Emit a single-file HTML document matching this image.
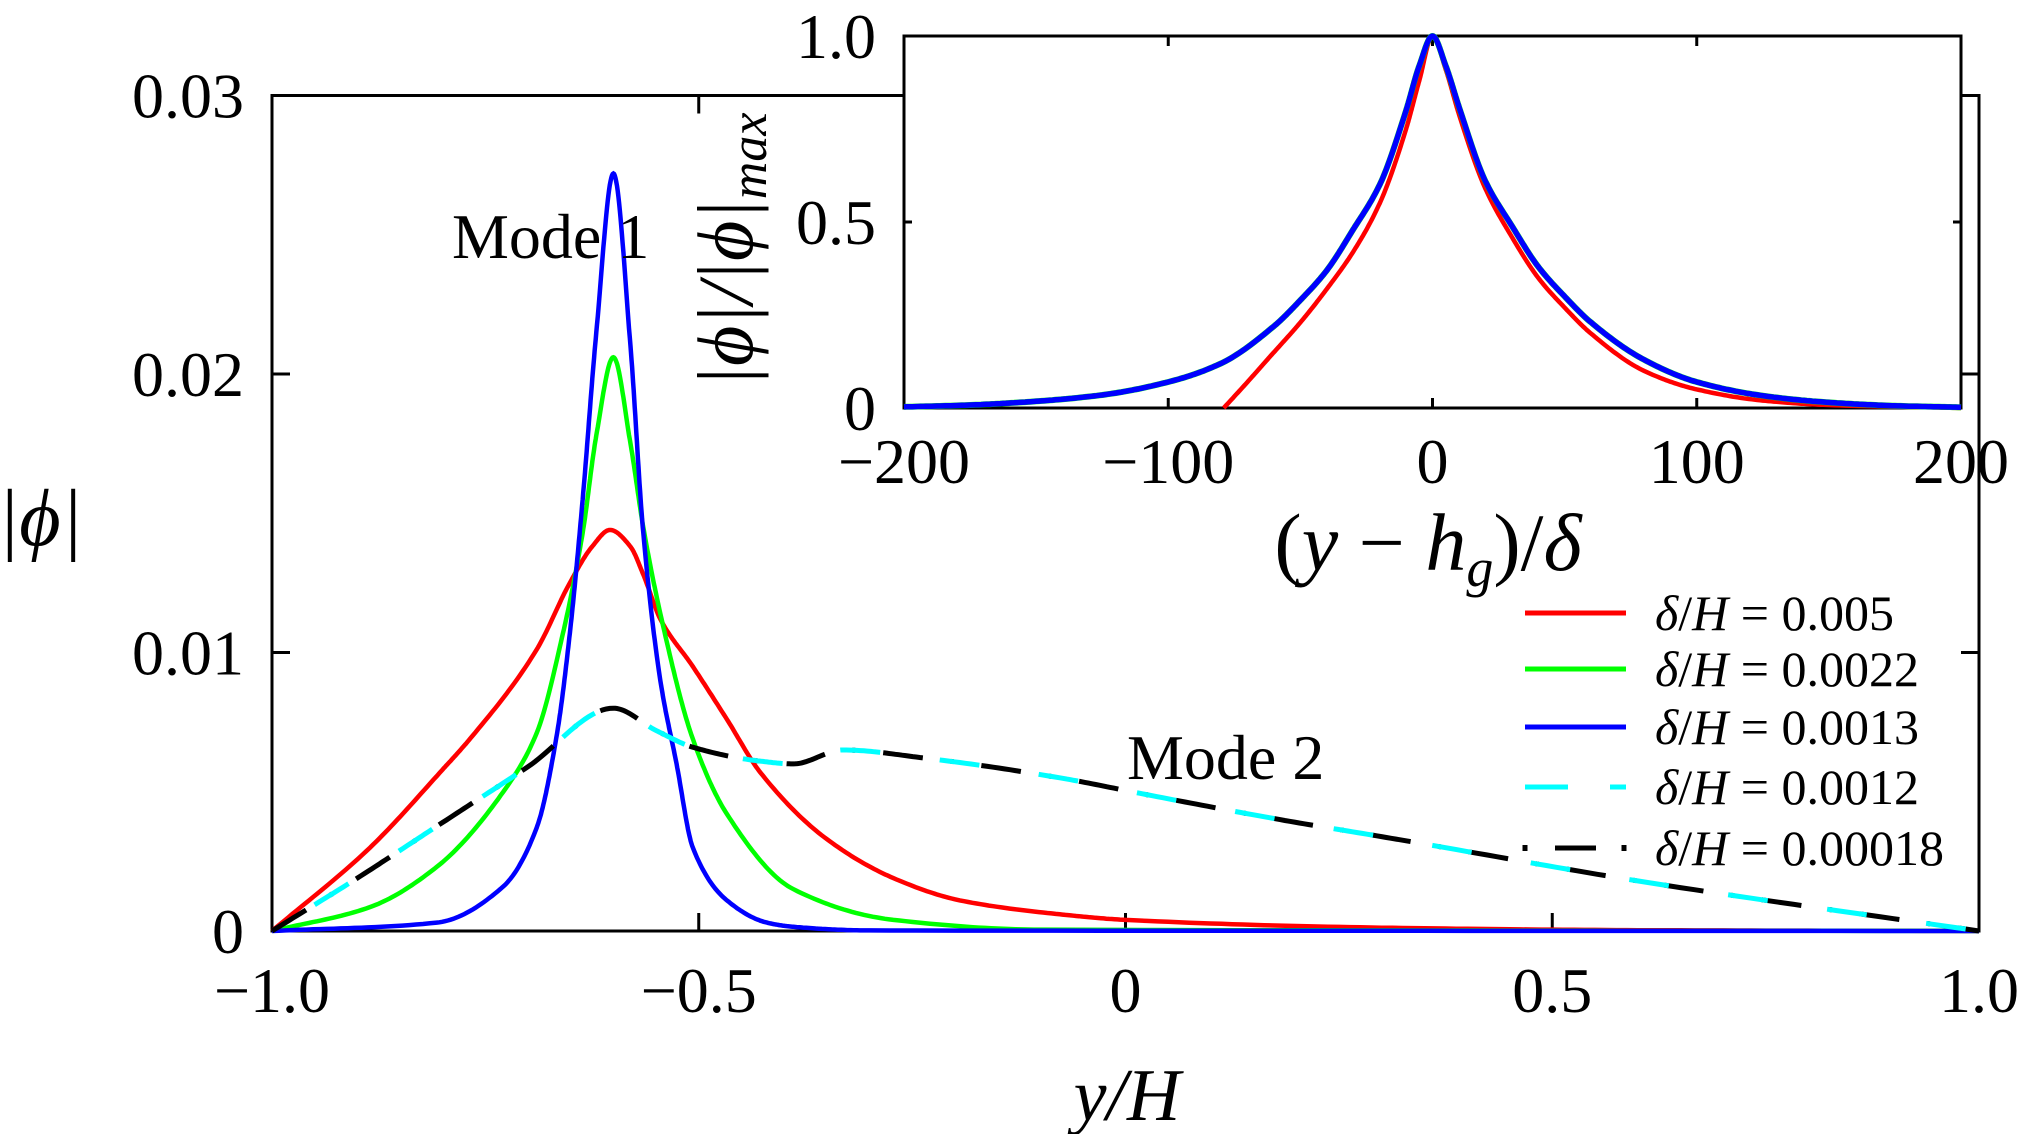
<!DOCTYPE html>
<html><head><meta charset="utf-8"><style>
html,body{margin:0;padding:0;background:#fff;}
svg{display:block;font-family:"Liberation Serif",serif;}
</style></head><body>
<svg id="chart" width="2024" height="1134" viewBox="0 0 2024 1134">
<g id="main"></g>
<g id="inset"></g>
<g id="legend"></g>
</svg>
<script>
// ---- main chart data ----
const mainXTicks = [-1, -0.5, 0, 0.5, 1];
const mainXTickLabels = ["\u22121.0", "\u22120.5", "0", "0.5", "1.0"];
const mainYTicks = [0, 0.01, 0.02, 0.03];
const mainYTickLabels = ["0", "0.01", "0.02", "0.03"];
const redX = [-1, -0.885, -0.8, -0.768, -0.69, -0.651, -0.625, -0.604, -0.58, -0.565, -0.545, -0.507, -0.467, -0.428, -0.35, -0.272, -0.194, -0.077, 0, 0.3, 0.6, 1];
const redY = [0, 0.0030, 0.0058, 0.0069, 0.0101, 0.0125, 0.0138, 0.0144, 0.0138, 0.0128, 0.0112, 0.0095, 0.0076, 0.0057, 0.0033, 0.0019, 0.0011, 0.0006, 0.0004, 0.00012, 0.00003, 0];
const greenX = [-1, -0.885, -0.807, -0.729, -0.69, -0.659, -0.636, -0.62, -0.6, -0.58, -0.565, -0.545, -0.507, -0.467, -0.389, -0.272, -0.1, 1];
const greenY = [0, 0.00086, 0.0023, 0.0050, 0.0071, 0.0107, 0.0143, 0.0178, 0.0206, 0.0175, 0.0145, 0.0114, 0.0069, 0.0042, 0.0015, 0.0004, 0.00005, 0];
const blueX = [-1, -0.807, -0.729, -0.69, -0.666, -0.651, -0.636, -0.62, -0.6, -0.58, -0.565, -0.545, -0.526, -0.507, -0.467, -0.42, -0.389, -0.3, 1];
const blueY = [0, 0.0003, 0.0016, 0.0037, 0.0071, 0.0107, 0.0155, 0.0215, 0.0272, 0.0210, 0.0143, 0.0090, 0.0060, 0.0030, 0.0011, 0.0003, 0.00015, 0.00002, 0];
const mode2X = [-1, -0.9, -0.8, -0.7, -0.6, -0.55, -0.507, -0.428, -0.389, -0.331, -0.233, -0.077, 0.024, 0.181, 0.317, 0.6, 1];
const mode2Y = [0, 0.0019, 0.0039, 0.0059, 0.0080, 0.0072, 0.0066, 0.0061, 0.0060, 0.0065, 0.0062, 0.0055, 0.0049, 0.0040, 0.0033, 0.0018, 0];
// ---- inset data ----
const insetXTicks = [-200, -100, 0, 100, 200];
const insetXTickLabels = ["\u2212200", "\u2212100", "0", "100", "200"];
const insetYTicks = [0, 0.5, 1];
const insetYTickLabels = ["0", "0.5", "1.0"];
const insBlueX = [-200, -175, -150, -125, -100, -80, -60, -50, -40, -30, -20, -10, -5, 0, 5, 10, 20, 30, 40, 50, 60, 80, 100, 125, 150, 175, 200];
const insBlueY = [0.003, 0.008, 0.018, 0.035, 0.07, 0.12, 0.22, 0.29, 0.37, 0.48, 0.6, 0.8, 0.92, 1, 0.92, 0.81, 0.61, 0.49, 0.38, 0.30, 0.23, 0.13, 0.07, 0.033, 0.015, 0.006, 0.002];
const insRedX = [-79, -70, -60, -50, -40, -30, -20, -10, -5, 0, 5, 10, 20, 30, 40, 50, 60, 80, 100, 125, 150, 200];
const insRedY = [0, 0.07, 0.15, 0.23, 0.32, 0.42, 0.55, 0.75, 0.88, 1, 0.91, 0.79, 0.59, 0.46, 0.35, 0.27, 0.20, 0.10, 0.05, 0.02, 0.008, 0];

const NS = "http://www.w3.org/2000/svg";
function mk(parent, tag, attrs) {
  const e = document.createElementNS(NS, tag);
  for (const k in attrs) e.setAttribute(k, attrs[k]);
  parent.appendChild(e);
  return e;
}
const MX0 = 272, MX1 = 1979, MY0 = 931, MY1 = 95.5;
const mx = v => MX0 + (v + 1) / 2 * (MX1 - MX0);
const my = v => MY0 - v / 0.03 * (MY0 - MY1);
const IX0 = 904, IX1 = 1961, IY0 = 408, IY1 = 36;
const ix = v => IX0 + (v + 200) / 400 * (IX1 - IX0);
const iy = v => IY0 - v * (IY0 - IY1);

function monoPath(xs, ys, fx, fy) {
  const n = xs.length, d = [], m = new Array(n);
  for (let i = 0; i < n - 1; i++) d.push((ys[i + 1] - ys[i]) / (xs[i + 1] - xs[i]));
  m[0] = d[0]; m[n - 1] = d[n - 2];
  for (let i = 1; i < n - 1; i++) {
    if (d[i - 1] * d[i] <= 0) m[i] = 0;
    else {
      const h0 = xs[i] - xs[i - 1], h1 = xs[i + 1] - xs[i];
      const w1 = 2 * h1 + h0, w2 = h1 + 2 * h0;
      m[i] = (w1 + w2) / (w1 / d[i - 1] + w2 / d[i]);
    }
  }
  let out = "M" + fx(xs[0]).toFixed(1) + "," + fy(ys[0]).toFixed(1);
  for (let i = 0; i < n - 1; i++) {
    const h = xs[i + 1] - xs[i], N = 24;
    for (let k = 1; k <= N; k++) {
      const t = k / N, t2 = t * t, t3 = t2 * t;
      const y = (2 * t3 - 3 * t2 + 1) * ys[i] + (t3 - 2 * t2 + t) * h * m[i] + (-2 * t3 + 3 * t2) * ys[i + 1] + (t3 - t2) * h * m[i + 1];
      out += " L" + fx(xs[i] + t * h).toFixed(1) + "," + fy(y).toFixed(1);
    }
  }
  return out;
}

const main = document.getElementById("main");
let fr = mk(main, "rect", {x: MX0, y: MY1, width: MX1 - MX0, height: MY0 - MY1, fill: "none", stroke: "#000", "stroke-width": 3});


mainXTicks.forEach((v, i) => {
  const t1 = mk(main, "line", {x1: mx(v), x2: mx(v), y1: MY0, y2: MY0 - 18, stroke: "#000", "stroke-width": 3});
  
  
  const t2 = mk(main, "line", {x1: mx(v), x2: mx(v), y1: MY1, y2: MY1 + 18, stroke: "#000", "stroke-width": 3});
  
  
  const lb = mk(main, "text", {x: mx(v), y: 1012, "font-size": 64, "text-anchor": "middle"});
  lb.textContent = mainXTickLabels[i];
  
  
});
mainYTicks.forEach((v, i) => {
  const t1 = mk(main, "line", {x1: MX0, x2: MX0 + 18, y1: my(v), y2: my(v), stroke: "#000", "stroke-width": 3});
  
  
  const t2 = mk(main, "line", {x1: MX1, x2: MX1 - 18, y1: my(v), y2: my(v), stroke: "#000", "stroke-width": 3});
  
  
  const lb = mk(main, "text", {x: 244, y: my(v) + 22, "font-size": 64, "text-anchor": "end"});
  lb.textContent = mainYTickLabels[i];
  
  
});
let s;
s = mk(main, "path", {d: monoPath(redX, redY, mx, my), fill: "none", stroke: "#ff0000", "stroke-width": 4.5});


s = mk(main, "path", {d: monoPath(greenX, greenY, mx, my), fill: "none", stroke: "#00ff00", "stroke-width": 4.5});


s = mk(main, "path", {d: monoPath(blueX, blueY, mx, my), fill: "none", stroke: "#0000ff", "stroke-width": 4.5});


s = mk(main, "path", {d: monoPath(mode2X, mode2Y, mx, my), fill: "none", stroke: "#000", "stroke-width": 5, "stroke-dasharray": "40 28 3 28"});


s = mk(main, "path", {d: monoPath(mode2X, mode2Y, mx, my), fill: "none", stroke: "#00ffff", "stroke-width": 5, "stroke-dasharray": "40 60", "stroke-dashoffset": "-50"});


let tx;
tx = mk(main, "text", {x: 452, y: 258, "font-size": 64});
tx.textContent = "Mode 1";


tx = mk(main, "text", {x: 1127, y: 779, "font-size": 64});
tx.textContent = "Mode 2";


tx = mk(main, "text", {x: 1127, y: 1120, "font-size": 74, "text-anchor": "middle", "font-style": "italic"});
tx.textContent = "y/H";


tx = mk(main, "text", {x: 40, y: 545, "font-size": 80, "text-anchor": "middle", "font-style": "italic"});
tx.textContent = "|\u03d5|";



const inset = document.getElementById("inset");
fr = mk(inset, "rect", {x: IX0, y: IY1, width: IX1 - IX0, height: IY0 - IY1, fill: "#fff", stroke: "#000", "stroke-width": 3});


insetXTicks.forEach((v, i) => {
  const t1 = mk(inset, "line", {x1: ix(v), x2: ix(v), y1: IY0, y2: IY0 - 10, stroke: "#000", "stroke-width": 3});
  
  
  const t2 = mk(inset, "line", {x1: ix(v), x2: ix(v), y1: IY1, y2: IY1 + 10, stroke: "#000", "stroke-width": 3});
  
  
  const lb = mk(inset, "text", {x: ix(v), y: 483, "font-size": 64, "text-anchor": "middle"});
  lb.textContent = insetXTickLabels[i];
  
  
});
insetYTicks.forEach((v, i) => {
  const t1 = mk(inset, "line", {x1: IX0, x2: IX0 + 8, y1: iy(v), y2: iy(v), stroke: "#000", "stroke-width": 3});
  
  
  const t2 = mk(inset, "line", {x1: IX1, x2: IX1 - 8, y1: iy(v), y2: iy(v), stroke: "#000", "stroke-width": 3});
  
  
  const lb = mk(inset, "text", {x: 876, y: iy(v) + 22, "font-size": 64, "text-anchor": "end"});
  lb.textContent = insetYTickLabels[i];
  
  
});
s = mk(inset, "path", {d: monoPath(insRedX, insRedY, ix, iy), fill: "none", stroke: "#ff0000", "stroke-width": 4.5});


s = mk(inset, "path", {d: monoPath(insBlueX, insBlueY, ix, iy), fill: "none", stroke: "#00ff00", "stroke-width": 6});


s = mk(inset, "path", {d: monoPath(insBlueX, insBlueY, ix, iy), fill: "none", stroke: "#0000ff", "stroke-width": 5.5});


tx = mk(inset, "text", {x: 1428, y: 570, "font-size": 82, "text-anchor": "middle"});
tx.innerHTML = '(<tspan font-style="italic">y</tspan> \u2212 <tspan font-style="italic">h</tspan><tspan font-style="italic" font-size="54" dy="16">g</tspan><tspan dy="-16">)/</tspan><tspan font-style="italic">\u03b4</tspan>';


tx = mk(inset, "text", {x: 0, y: 0, "font-size": 78, "text-anchor": "middle", "font-style": "italic", transform: "translate(752,250) rotate(-90)"});
tx.innerHTML = '|\u03d5|/|\u03d5|<tspan font-size="52" dy="14">max</tspan>';



const legend = document.getElementById("legend");
const legLabels = ["0.005", "0.0022", "0.0013", "0.0012", "0.00018"];
const legRows = [613, 669, 727, 787, 848];
const legColors = ["#ff0000", "#00ff00", "#0000ff", "#00ffff", "#000"];
legLabels.forEach((lab, i) => {
  const y = legRows[i];
  let ln;
  if (i < 3) {
    ln = mk(legend, "line", {x1: 1525, x2: 1626, y1: y, y2: y, stroke: legColors[i], "stroke-width": 5});
  } else if (i === 3) {
    ln = mk(legend, "path", {d: `M1525,${y} H1568 M1610,${y} H1626`, stroke: legColors[i], "stroke-width": 5});
  } else {
    ln = mk(legend, "path", {d: `M1525,${y-3} V${y+3} M1555,${y} H1596 M1624,${y-3} V${y+3}`, stroke: legColors[i], "stroke-width": 5});
  }
  
  
  const t = mk(legend, "text", {x: 1655, y: y + 17, "font-size": 50});
  t.innerHTML = '<tspan font-style="italic">\u03b4</tspan>/<tspan font-style="italic">H</tspan> = ' + lab;
  
  
});
</script>
</body></html>
